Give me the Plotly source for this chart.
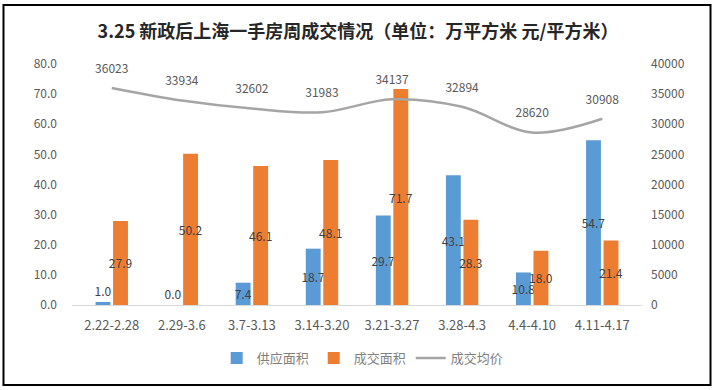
import plotly.graph_objects as go

categories = ["2.22-2.28", "2.29-3.6", "3.7-3.13", "3.14-3.20", "3.21-3.27", "3.28-4.3", "4.4-4.10", "4.11-4.17"]
supply_area = [1.0, 0.0, 7.4, 18.7, 29.7, 43.1, 10.8, 54.7]
deal_area = [27.9, 50.2, 46.1, 48.1, 71.7, 28.3, 18.0, 21.4]
avg_price = [36023, 33934, 32602, 31983, 34137, 32894, 28620, 30908]

FONT = "Noto Sans CJK SC"
LABEL_COLOR = "#404040"
TICK_COLOR = "#595959"

supply_pos = ["outside" if v < 5 else "inside" for v in supply_area]

fig = go.Figure()
fig.add_trace(go.Bar(
    x=categories, y=supply_area, name="供应面积",
    marker=dict(color="#5B9BD5", line=dict(width=0)),
    text=[f"{v:.1f}" for v in supply_area],
    textposition=supply_pos, insidetextanchor="middle", textangle=0,
    constraintext="none", cliponaxis=False,
    textfont=dict(family=FONT, size=12, color=LABEL_COLOR),
    hoverinfo="skip",
))
fig.add_trace(go.Bar(
    x=categories, y=deal_area, name="成交面积",
    marker=dict(color="#ED7D31", line=dict(width=0)),
    text=[f"{v:.1f}" for v in deal_area],
    textposition="inside", insidetextanchor="middle", textangle=0,
    constraintext="none", cliponaxis=False,
    textfont=dict(family=FONT, size=12, color=LABEL_COLOR),
    hoverinfo="skip",
))
fig.add_trace(go.Scatter(
    x=categories, y=avg_price, name="成交均价", yaxis="y2",
    mode="lines+markers+text",
    line=dict(color="#A5A5A5", width=2.5, shape="spline", smoothing=1),
    marker=dict(size=18, color="rgba(0,0,0,0)"),
    text=[str(v) for v in avg_price], textposition="top center",
    textfont=dict(family=FONT, size=12, color="#595959"),
    cliponaxis=False, hoverinfo="skip",
))

# frame in paper coordinates (plot area: x 72..642, y 64..305 px)
fig.add_shape(type="rect", xref="paper", yref="paper",
              x0=-0.1202, x1=1.1202, y0=-0.332, y1=1.2448,
              line=dict(color="black", width=2), fillcolor="rgba(0,0,0,0)")

fig.update_layout(
    width=716, height=390,
    margin=dict(l=72, r=74, t=64, b=85),
    paper_bgcolor="white", plot_bgcolor="white",
    font=dict(family=FONT, size=12, color=TICK_COLOR),
    title=dict(text="<b>3.25 新政后上海一手房周成交情况（单位：万平方米 元/平方米）</b>",
               x=0.5, xref="container", xanchor="center",
               y=1 - 32 / 390, yref="container", yanchor="middle",
               font=dict(family=FONT, size=18, color="#262626")),
    barmode="group", bargap=0.5, bargroupgap=0.15,
    showlegend=True,
    legend=dict(orientation="h", x=0.51, xanchor="center", y=-0.22, yanchor="middle",
                font=dict(family=FONT, size=13, color="#7F7F7F"),
                itemwidth=30, traceorder="normal"),
    xaxis=dict(showline=True, linecolor="#D9D9D9", linewidth=1, ticks="",
               showgrid=False, ticklabelstandoff=8,
               tickfont=dict(family=FONT, size=13, color=TICK_COLOR)),
    yaxis=dict(range=[0, 80], dtick=10, tickformat=".1f", showgrid=False,
               zeroline=False, ticks="", ticklabelstandoff=14,
               tickfont=dict(family=FONT, size=12, color=TICK_COLOR)),
    yaxis2=dict(range=[0, 40000], dtick=5000, tickformat="d", overlaying="y",
                side="right", showgrid=False, zeroline=False, ticks="",
                ticklabelstandoff=8,
                tickfont=dict(family=FONT, size=12, color=TICK_COLOR)),
)

fig.write_html("out.html", config={"displayModeBar": False},
               post_script="document.body.style.margin='0';")
